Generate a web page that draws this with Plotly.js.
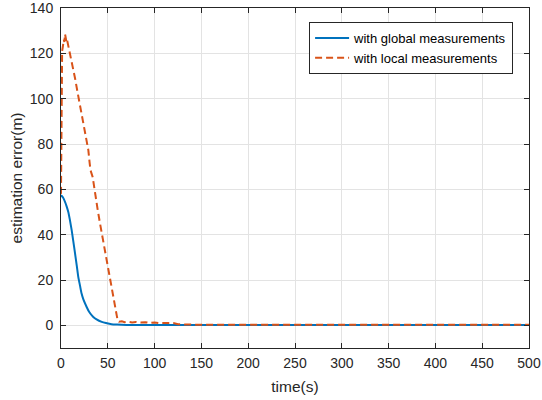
<!DOCTYPE html>
<html>
<head>
<meta charset="utf-8">
<script src="https://cdn.plot.ly/plotly-3.0.1.min.js"></script>
<style>
  html, body { margin: 0; padding: 0; background: #ffffff; }
  #chart { width: 542px; height: 400px; }
</style>
</head>
<body>
<div id="chart"></div>
<script>
// Estimation error over time for two measurement schemes
const globalTime = [0, 2, 4.3, 6, 7.8, 9.5, 11.4, 13, 15, 16.8, 18.5, 20.3, 22, 24, 27.4, 30, 34.5, 38, 43.5, 48, 54, 60, 70, 80, 100, 150, 200, 300, 400, 500];
const globalError = [57.4, 56.5, 54.5, 52.5, 50, 46.5, 42, 37.5, 31.7, 26.5, 21.3, 17.5, 14, 11.3, 8.1, 6, 3.7, 2.6, 1.5, 1.0, 0.5, 0.35, 0.2, 0.15, 0.1, 0.1, 0.1, 0.1, 0.1, 0.1];

const localTime = [0, 0.4, 0.8, 1.2, 2, 3, 3.6, 4.3, 5, 5.6, 6.2, 7.5, 9.6, 12, 15, 18.5, 22, 25.6, 29.2, 30.5, 31.5, 33.8, 36.3, 39, 41.7, 44.5, 47, 49.5, 52.4, 55, 57.7, 59.5, 60.5, 62, 65, 68, 72, 76, 80, 85, 90, 95, 100, 105, 110, 115, 120, 125, 130, 140, 160, 200, 250, 300, 350, 400, 450, 500];
const localError = [58, 90, 112, 121, 123, 126, 125, 128.5, 127, 125.5, 126.5, 124, 120, 115, 109, 101, 93, 85, 77.3, 72, 68.5, 65.5, 58.2, 51.5, 44.9, 38.5, 33, 27.5, 21.3, 15.5, 9.6, 5, 2.2, 1.6, 1.8, 1.4, 1.6, 1.3, 1.5, 1.2, 1.4, 1.0, 1.3, 1.0, 1.1, 0.9, 1.0, 0.5, 0.4, 0.3, 0.3, 0.3, 0.3, 0.3, 0.3, 0.3, 0.3, 0.3];

const seriesNames = ['with global measurements', 'with local measurements'];

const xTicks = [0, 50, 100, 150, 200, 250, 300, 350, 400, 450, 500];
const yTicks = [0, 20, 40, 60, 80, 100, 120, 140];

const axisColor = '#262626';
const gridColor = '#e3e3e3';
const fontFamily = '"Liberation Sans", Arial, Helvetica, sans-serif';
const tickFont = { family: fontFamily, size: 14, color: axisColor };
const titleFont = { family: fontFamily, size: 15.5, color: axisColor };

const traces = [
  {
    x: globalTime, y: globalError, name: seriesNames[0],
    type: 'scatter', mode: 'lines',
    line: { color: '#0072BD', width: 2, shape: 'spline', smoothing: 0.6 }
  },
  {
    x: localTime, y: localError, name: seriesNames[1],
    type: 'scatter', mode: 'lines',
    line: { color: '#D95319', width: 2, dash: '7px,4px' }
  }
];

const commonAxis = {
  showline: true, linecolor: axisColor, linewidth: 1,
  mirror: 'ticks', ticks: 'inside', ticklen: 5, tickcolor: axisColor,
  showgrid: true, gridcolor: gridColor, gridwidth: 1,
  zeroline: false, tickfont: tickFont, ticklabeloverflow: 'allow'
};

const layout = {
  width: 542, height: 400,
  margin: { l: 61, r: 13, t: 8, b: 52 },
  paper_bgcolor: '#ffffff', plot_bgcolor: '#ffffff',
  font: tickFont,
  showlegend: true,
  xaxis: Object.assign({}, commonAxis, {
    range: [0, 500], tickvals: xTicks, ticktext: xTicks.map(String),
    ticklabelstandoff: 2,
    title: { text: 'time(s)', font: titleFont, standoff: 11 }
  }),
  yaxis: Object.assign({}, commonAxis, {
    range: [-10, 140], tickvals: yTicks, ticktext: yTicks.map(String),
    ticklabelstandoff: 4,
    title: { text: 'estimation error(m)', font: titleFont, standoff: 3 }
  }),
  legend: {
    x: 0.966, xanchor: 'right', y: 0.959, yanchor: 'top',
    bgcolor: '#ffffff', bordercolor: axisColor, borderwidth: 1,
    font: { family: fontFamily, size: 13, color: '#000000' },
    tracegroupgap: 0, itemwidth: 34
  }
};

Plotly.newPlot('chart', traces, layout, { displayModeBar: false, staticPlot: true });
</script>
</body>
</html>
